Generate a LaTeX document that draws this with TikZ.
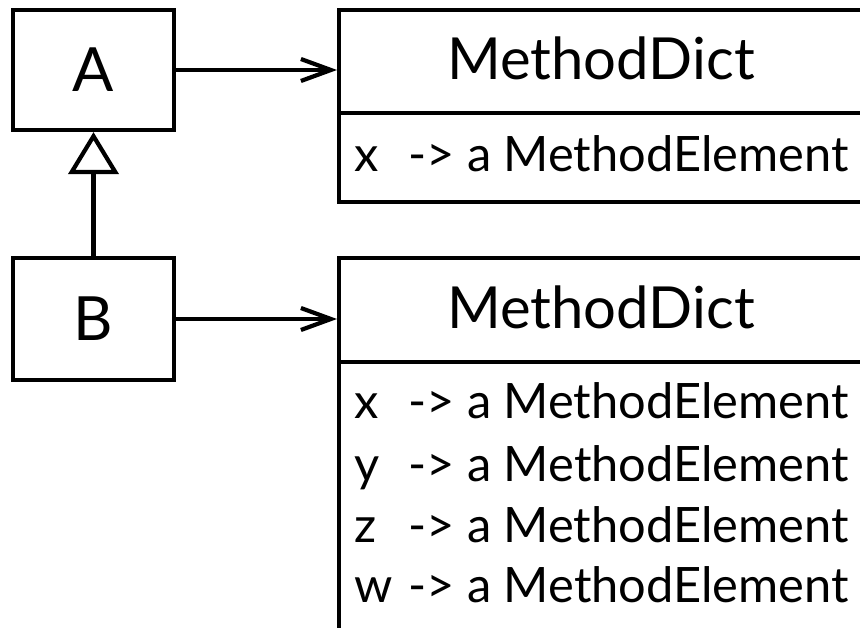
\documentclass[tikz,border=0pt]{standalone}
\usepackage{fontspec}
\setmainfont{Lato}
\usetikzlibrary{arrows.meta}
\begin{document}
\begin{tikzpicture}[x=1pt,y=-1pt, line width=4.2pt,
  cls/.style={draw, rectangle, minimum width=161pt, inner sep=0pt, font=\fontsize{61}{64}\selectfont},
  dict/.style={draw, rectangle, inner sep=0pt, anchor=north west, minimum width=524pt},
  head/.style={font=\fontsize{58}{60}\selectfont, inner sep=0pt, anchor=base},
  row/.style={font=\fontsize{48.8}{52}\selectfont, inner sep=0pt, anchor=base west},
  assoc/.style={-{Straight Barb[length=30pt,width=22pt]}},
  inherit/.style={-{Triangle[open,length=42pt,width=50pt]}}]
\useasboundingbox (0,0) rectangle (860,628);
\clip (0,0) rectangle (860,628);
\node[cls, minimum height=120pt] (A) at (93.5,70) {A};
\node[cls, minimum height=122pt] (B) at (93.5,319) {B};
\node[dict, minimum height=192pt] (d1) at (337,8) {};
\node[dict, minimum height=420pt] (d2) at (337,256) {};
\draw (d1.west |- 0,113) -- (d1.east |- 0,113);
\draw (d2.west |- 0,362) -- (d2.east |- 0,362);
\node[head] (h1) at (601,80) {MethodDict};
\node[head] (h2) at (601,329) {MethodDict};
\node[row] (r1) at (352,172) {\makebox[54pt][l]{x}-> a MethodElement};
\node[row] (r2) at (352,419) {\makebox[54pt][l]{x}-> a MethodElement};
\node[row] (r3) at (352,481) {\makebox[54pt][l]{y}-> a MethodElement};
\node[row] (r4) at (352,542) {\makebox[54pt][l]{z}-> a MethodElement};
\node[row] (r5) at (352,602) {\makebox[54pt][l]{w}-> a MethodElement};
\draw[assoc] (A.east) -- (A.east -| d1.west);
\draw[assoc] (B.east) -- (B.east -| d2.west);
\draw[inherit] (B.north) -- (A.south);
\end{tikzpicture}
\end{document}
